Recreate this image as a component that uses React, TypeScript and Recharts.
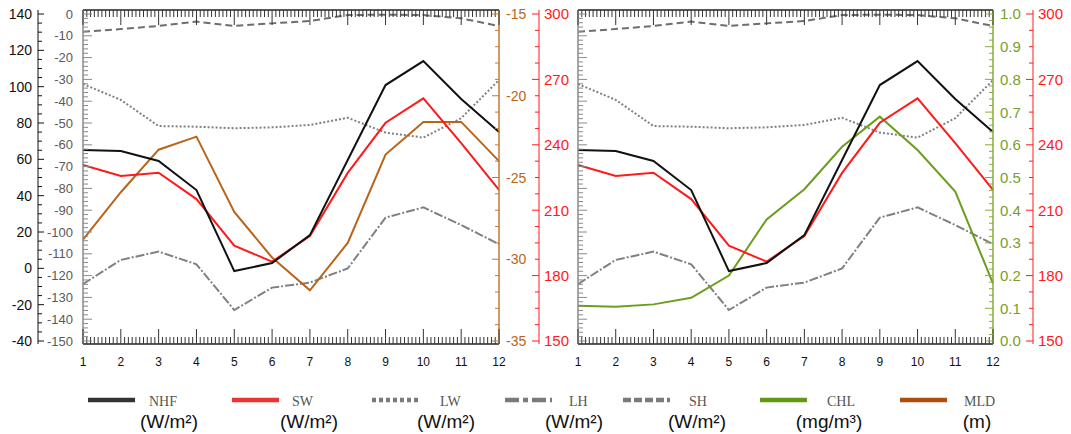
import React from 'react';
import { LineChart, Line, XAxis, YAxis } from 'recharts';

// ---------- data ----------
const months = [1, 2, 3, 4, 5, 6, 7, 8, 9, 10, 11, 12];
const nhf = [65.1, 64.6, 59.1, 43.1, -1.5, 2.9, 18.3, 59.6, 100.9, 114.1, 93.2, 75.0];
const sw = [230.7, 225.7, 227.2, 215.1, 193.7, 186.4, 198.2, 227.1, 250.1, 261.3, 240.8, 219.3];
const lw = [-32.1, -39.4, -51.4, -51.7, -52.4, -52.0, -50.9, -47.6, -54.4, -56.7, -47.8, -30.3];
const lh = [-123.9, -112.8, -109.0, -114.8, -135.8, -125.5, -123.2, -116.7, -93.4, -88.7, -96.8, -105.6];
const sh = [-8.1, -6.9, -5.5, -3.5, -5.5, -4.3, -3.2, -0.5, -0.3, -0.5, -2.0, -5.5];
const mld = [-28.8, -25.9, -23.3, -22.5, -27.1, -29.9, -31.9, -29.0, -23.6, -21.6, -21.6, -24.0];
const chl = [0.108, 0.105, 0.112, 0.132, 0.2, 0.372, 0.464, 0.594, 0.686, 0.584, 0.457, 0.176];

const legendNames = ['NHF', 'SW', 'LW', 'LH', 'SH', 'CHL', 'MLD'];
const legendUnits = ['(W/m²)', '(W/m²)', '(W/m²)', '(W/m²)', '(W/m²)', '(mg/m³)', '(m)'];

const rows = months.map((m, i) => ({
  month: m,
  nhf: nhf[i],
  sw: sw[i],
  lw: lw[i],
  lh: lh[i],
  sh: sh[i],
  mld: mld[i],
  chl: chl[i],
}));

// ---------- ticks ----------
const range = (a: number, b: number, step: number) => {
  const out: number[] = [];
  const n = Math.round((b - a) / step);
  for (let i = 0; i <= n; i++) out.push(+(a + i * step).toFixed(4));
  return out;
};
const xTicks = range(1, 12, 0.1);
const nhfTicks = range(-40, 140, 5);
const grayTicks = range(-150, 0, 2);
const brownTicks = range(-35, -15, 1);
const redTicks = range(150, 300, 7.5);
const greenTicks = range(0, 1, 0.02);

// ---------- styles ----------
const C = {
  black: '#111111',
  red: '#ff1a1a',
  gray: '#808080',
  dgray: '#6e6e6e',
  brown: '#b8651b',
  brownAxis: '#c27a35',
  green: '#6b9e1f',
  greenAxis: '#86ad3a',
};
const FONT = '"Liberation Sans", Arial, sans-serif';
const PAD = { top: 4, bottom: 3 };

type TickCfg = {
  side: 'left' | 'right';
  major: number;
  majorLen: number;
  minorLen: number;
  tickColor: string;
  labelColor: string;
  fontSize: number;
  gap: number;
  labels: boolean;
  fmt?: (v: number) => string;
};

const isMul = (v: number, s: number) => Math.abs(v / s - Math.round(v / s)) < 1e-6;

function makeYTick(cfg: TickCfg) {
  return (props: any) => {
    const { x, y, payload } = props;
    const v = payload.value as number;
    const major = isMul(v, cfg.major);
    const len = major ? cfg.majorLen : cfg.minorLen;
    const dir = cfg.side === 'left' ? 1 : -1;
    return (
      <g>
        <line x1={x} x2={x + dir * len} y1={y} y2={y} stroke={cfg.tickColor} strokeWidth={1} />
        {cfg.labels && major ? (
          <text
            x={x - dir * cfg.gap}
            y={y}
            dy="0.36em"
            textAnchor={cfg.side === 'left' ? 'end' : 'start'}
            fill={cfg.labelColor}
            fontSize={cfg.fontSize}
            fontFamily={FONT}
          >
            {cfg.fmt ? cfg.fmt(v) : String(v)}
          </text>
        ) : null}
      </g>
    );
  };
}

function makeXTick(top: boolean) {
  return (props: any) => {
    const { x, y, payload } = props;
    const v = payload.value as number;
    const major = isMul(v, 1);
    const len = major ? 15 : 7;
    const dir = top ? 1 : -1;
    return (
      <g>
        <line x1={x} x2={x} y1={y} y2={y + dir * len} stroke="#333" strokeWidth={1} />
        {!top && major ? (
          <text x={x} y={y + 18} dy="0.36em" textAnchor="middle" fill="#111" fontSize={12} fontFamily={FONT}>
            {String(Math.round(v))}
          </text>
        ) : null}
      </g>
    );
  };
}

const grayTickL = makeYTick({ side: 'left', major: 10, majorLen: 9, minorLen: 5, tickColor: '#8a8a8a', labelColor: '#5a5a5a', fontSize: 13, gap: 10, labels: true });
const grayTickNoLabel = makeYTick({ side: 'left', major: 10, majorLen: 9, minorLen: 5, tickColor: '#8a8a8a', labelColor: '#5a5a5a', fontSize: 13, gap: 10, labels: false });
const nhfTick = makeYTick({ side: 'left', major: 20, majorLen: 6, minorLen: 4, tickColor: '#111', labelColor: '#111', fontSize: 14, gap: 6, labels: true });
const brownTick = makeYTick({ side: 'right', major: 5, majorLen: 7, minorLen: 4, tickColor: C.brownAxis, labelColor: C.brown, fontSize: 14, gap: 7, labels: true });
const redTick = makeYTick({ side: 'right', major: 30, majorLen: 7, minorLen: 4, tickColor: C.red, labelColor: C.red, fontSize: 15, gap: 5, labels: true });
const greenTick = makeYTick({ side: 'right', major: 0.1, majorLen: 8, minorLen: 4, tickColor: C.greenAxis, labelColor: '#77a02a', fontSize: 15, gap: 7, labels: true, fmt: (v) => v.toFixed(1) });
const xTickBottom = makeXTick(false);
const xTickTop = makeXTick(true);

const lineStyles = {
  nhf: { stroke: C.black, strokeWidth: 2 },
  sw: { stroke: C.red, strokeWidth: 2 },
  lw: { stroke: C.gray, strokeWidth: 2, strokeDasharray: '2 2' },
  lh: { stroke: C.gray, strokeWidth: 2, strokeDasharray: '9 2 2 2' },
  sh: { stroke: C.dgray, strokeWidth: 2, strokeDasharray: '7 4' },
  mld: { stroke: C.brown, strokeWidth: 2 },
  chl: { stroke: C.green, strokeWidth: 2 },
};

const CH_H = 374;
const MARGIN = { top: 9, right: 0, bottom: 0, left: 0 };

function LeftChart() {
  return (
    <LineChart width={580} height={CH_H} data={rows} margin={MARGIN}>
      <XAxis xAxisId="b" dataKey="month" type="number" domain={[1, 12]} ticks={xTicks} interval={0} height={30}
        tickLine={false} tickSize={0} tickMargin={0} axisLine={{ stroke: '#222', strokeWidth: 1.5 }} tick={xTickBottom} />
      <XAxis xAxisId="t" orientation="top" dataKey="month" type="number" domain={[1, 12]} ticks={xTicks} interval={0} height={1}
        tickLine={false} tickSize={0} tickMargin={0} axisLine={{ stroke: '#222', strokeWidth: 1.5 }} tick={xTickTop} />
      <YAxis yAxisId="gray" orientation="left" width={45} type="number" domain={[-150, 0]} ticks={grayTicks} interval={0}
        padding={PAD} tickLine={false} tickSize={0} tickMargin={0} axisLine={{ stroke: '#8a8a8a', strokeWidth: 1.5 }} tick={grayTickL} />
      <YAxis yAxisId="nhf" orientation="left" width={38} type="number" domain={[-40, 140]} ticks={nhfTicks} interval={0}
        padding={PAD} tickLine={false} tickSize={0} tickMargin={0} axisLine={{ stroke: '#111', strokeWidth: 1 }} tick={nhfTick} />
      <YAxis yAxisId="brown" orientation="right" width={40} type="number" domain={[-35, -15]} ticks={brownTicks} interval={0}
        padding={PAD} tickLine={false} tickSize={0} tickMargin={0} axisLine={{ stroke: C.brownAxis, strokeWidth: 1.5 }} tick={brownTick} />
      <YAxis yAxisId="red" orientation="right" width={41} type="number" domain={[150, 300]} ticks={redTicks} interval={0}
        padding={PAD} tickLine={false} tickSize={0} tickMargin={0} axisLine={{ stroke: C.red, strokeWidth: 1 }} tick={redTick} />
      <Line xAxisId="b" yAxisId="gray" dataKey="sh" dot={false} isAnimationActive={false} {...lineStyles.sh} />
      <Line xAxisId="b" yAxisId="gray" dataKey="lw" dot={false} isAnimationActive={false} {...lineStyles.lw} />
      <Line xAxisId="b" yAxisId="gray" dataKey="lh" dot={false} isAnimationActive={false} {...lineStyles.lh} />
      <Line xAxisId="b" yAxisId="brown" dataKey="mld" dot={false} isAnimationActive={false} {...lineStyles.mld} />
      <Line xAxisId="b" yAxisId="red" dataKey="sw" dot={false} isAnimationActive={false} {...lineStyles.sw} />
      <Line xAxisId="b" yAxisId="nhf" dataKey="nhf" dot={false} isAnimationActive={false} {...lineStyles.nhf} />
    </LineChart>
  );
}

function RightChart() {
  return (
    <LineChart width={499} height={CH_H} data={rows} margin={MARGIN}>
      <XAxis xAxisId="b" dataKey="month" type="number" domain={[1, 12]} ticks={xTicks} interval={0} height={30}
        tickLine={false} tickSize={0} tickMargin={0} axisLine={{ stroke: '#222', strokeWidth: 1.5 }} tick={xTickBottom} />
      <XAxis xAxisId="t" orientation="top" dataKey="month" type="number" domain={[1, 12]} ticks={xTicks} interval={0} height={1}
        tickLine={false} tickSize={0} tickMargin={0} axisLine={{ stroke: '#222', strokeWidth: 1.5 }} tick={xTickTop} />
      <YAxis yAxisId="gray" orientation="left" width={6} type="number" domain={[-150, 0]} ticks={grayTicks} interval={0}
        padding={PAD} tickLine={false} tickSize={0} tickMargin={0} axisLine={{ stroke: '#8a8a8a', strokeWidth: 1.5 }} tick={grayTickNoLabel} />
      <YAxis yAxisId="nhf" hide type="number" domain={[-40, 140]} padding={PAD} />
      <YAxis yAxisId="green" orientation="right" width={40} type="number" domain={[0, 1]} ticks={greenTicks} interval={0}
        padding={PAD} tickLine={false} tickSize={0} tickMargin={0} axisLine={{ stroke: C.greenAxis, strokeWidth: 1.5 }} tick={greenTick} />
      <YAxis yAxisId="red" orientation="right" width={38} type="number" domain={[150, 300]} ticks={redTicks} interval={0}
        padding={PAD} tickLine={false} tickSize={0} tickMargin={0} axisLine={{ stroke: C.red, strokeWidth: 1 }} tick={redTick} />
      <Line xAxisId="b" yAxisId="gray" dataKey="sh" dot={false} isAnimationActive={false} {...lineStyles.sh} />
      <Line xAxisId="b" yAxisId="gray" dataKey="lw" dot={false} isAnimationActive={false} {...lineStyles.lw} />
      <Line xAxisId="b" yAxisId="gray" dataKey="lh" dot={false} isAnimationActive={false} {...lineStyles.lh} />
      <Line xAxisId="b" yAxisId="green" dataKey="chl" dot={false} isAnimationActive={false} {...lineStyles.chl} />
      <Line xAxisId="b" yAxisId="red" dataKey="sw" dot={false} isAnimationActive={false} {...lineStyles.sw} />
      <Line xAxisId="b" yAxisId="nhf" dataKey="nhf" dot={false} isAnimationActive={false} {...lineStyles.nhf} />
    </LineChart>
  );
}

// legend layout (style only)
const legendKeys = ['nhf', 'sw', 'lw', 'lh', 'sh', 'chl', 'mld'] as const;
const legendColors: Record<string, { stroke: string; dash?: string }> = {
  nhf: { stroke: '#333333' },
  sw: { stroke: '#ee3333' },
  lw: { stroke: '#7a7a7a', dash: '4 3' },
  lh: { stroke: '#7a7a7a', dash: '14 4 5 4' },
  sh: { stroke: '#7a7a7a', dash: '8 3' },
  chl: { stroke: '#5f9a12' },
  mld: { stroke: '#aa4f0c' },
};
const legendLineX = [88, 232, 372, 505, 623, 760, 900];
const legendTextX = [149, 292, 440, 569, 689, 827, 964];
const legendUnitX = [169, 309, 446, 574, 697, 829, 977];

function LegendBox() {
  return (
    <svg width={1071} height={54} style={{ position: 'absolute', left: 0, top: 380 }}>
      {legendKeys.map((k, i) => {
        const st = legendColors[k];
        return (
          <g key={k}>
            <line x1={legendLineX[i]} x2={legendLineX[i] + 47} y1={20} y2={20} stroke={st.stroke} strokeWidth={4.5} strokeDasharray={st.dash} />
            <text x={legendTextX[i]} y={21} dy="0.35em" fontSize={14} fill="#555" fontFamily='"Liberation Serif", "Times New Roman", serif'>
              {legendNames[i]}
            </text>
            <text x={legendUnitX[i]} y={41} dy="0.35em" textAnchor="middle" fontSize={19} fill="#111" fontFamily={FONT}>
              {legendUnits[i]}
            </text>
          </g>
        );
      })}
    </svg>
  );
}

export default function App() {
  return (
    <div style={{ position: 'absolute', left: 0, top: 0, width: 1071, height: 434, background: '#fff', overflow: 'hidden' }}>
      <div style={{ position: 'absolute', left: 0, top: 0 }}>
        <LeftChart />
      </div>
      <div style={{ position: 'absolute', left: 572, top: 0 }}>
        <RightChart />
      </div>
      <LegendBox />
    </div>
  );
}
